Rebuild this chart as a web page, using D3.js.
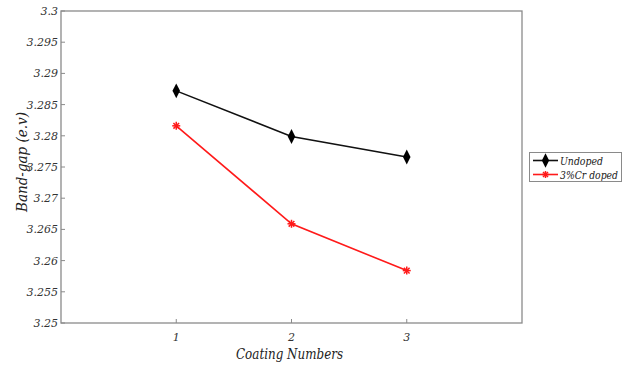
<!DOCTYPE html>
<html>
<head>
<meta charset="utf-8">
<script src="https://cdn.jsdelivr.net/npm/d3@7"></script>
<style>
  body { margin: 0; background: #fff; }
</style>
</head>
<body>
<div id="chart"></div>
<script>
// data
var coatings = [1, 2, 3]
var undoped = [3.2872, 3.2799, 3.2766]
var crDoped = [3.2816, 3.2659, 3.2584]
var yTicks = [3.25, 3.255, 3.26, 3.265, 3.27, 3.275, 3.28, 3.285, 3.29, 3.295, 3.3]
var xTicks = [1, 2, 3]

var svg = d3.select("#chart")
  .append("svg")
  .attr("width", 634)
  .attr("height", 365)
  .style("font-family", "'DejaVu Serif', serif")
  .style("font-style", "italic")

var x = d3.scaleLinear()
    .domain([0, 4])
    .range([61, 522])
var y = d3.scaleLinear()
    .domain([3.25, 3.3])
    .range([323, 11])

var axisColor = "#8a8a8a"

// box
svg.append("rect")
  .attr("x", x(0)).attr("y", y(3.3))
  .attr("width", x(4) - x(0)).attr("height", y(3.25) - y(3.3))
  .attr("fill", "none").attr("stroke", axisColor).attr("stroke-width", 1.3)

// y ticks (inward)
svg.selectAll(".ytick")
  .data(yTicks)
  .enter()
  .append("line")
  .attr("x1", x(0)).attr("x2", x(0) + 4)
  .attr("y1", function(d){ return y(d) }).attr("y2", function(d){ return y(d) })
  .attr("stroke", axisColor)
svg.selectAll(".ylab")
  .data(yTicks)
  .enter()
  .append("text")
  .attr("x", x(0) - 3)
  .attr("y", function(d){ return y(d) + 4 })
  .attr("text-anchor", "end")
  .attr("font-size", 11)
  .attr("fill", "#333")
  .text(function(d){ return +d.toFixed(3) })

// x ticks (inward)
svg.selectAll(".xtick")
  .data(xTicks)
  .enter()
  .append("line")
  .attr("x1", function(d){ return x(d) }).attr("x2", function(d){ return x(d) })
  .attr("y1", y(3.25)).attr("y2", y(3.25) - 4)
  .attr("stroke", axisColor)
svg.selectAll(".xlab")
  .data(xTicks)
  .enter()
  .append("text")
  .attr("x", function(d){ return x(d) })
  .attr("y", y(3.25) + 18)
  .attr("text-anchor", "middle")
  .attr("font-size", 11)
  .attr("fill", "#333")
  .text(function(d){ return d })

// axis titles
svg.append("text")
  .attr("x", 289.5).attr("y", 359)
  .attr("text-anchor", "middle")
  .attr("font-size", 14)
  .attr("textLength", 107).attr("lengthAdjust", "spacingAndGlyphs")
  .attr("fill", "#222")
  .text("Coating Numbers")
svg.append("text")
  .attr("transform", "translate(27,162) rotate(-90)")
  .attr("text-anchor", "middle")
  .attr("font-size", 14)
  .attr("textLength", 100).attr("lengthAdjust", "spacingAndGlyphs")
  .attr("fill", "#222")
  .text("Band-gap (e.v)")

var line = d3.line()
  .x(function(d){ return x(d[0]) })
  .y(function(d){ return y(d[1]) })

var diamond = d3.symbol().type(d3.symbolDiamond).size(45)

function asterisk(g, cx, cy, r, color){
  [0, 45, 90, 135].forEach(function(a){
    var rad = a * Math.PI / 180
    g.append("line")
      .attr("x1", cx - r * Math.cos(rad)).attr("y1", cy - r * Math.sin(rad))
      .attr("x2", cx + r * Math.cos(rad)).attr("y2", cy + r * Math.sin(rad))
      .attr("stroke", color).attr("stroke-width", 1.5)
  })
}

// black series
svg.append("path")
  .attr("d", line(d3.zip(coatings, undoped)))
  .attr("fill", "none").attr("stroke", "#111").attr("stroke-width", 1.6)
svg.selectAll(".dia")
  .data(d3.zip(coatings, undoped))
  .enter()
  .append("path")
  .attr("d", diamond)
  .attr("transform", function(d){ return "translate(" + x(d[0]) + "," + y(d[1]) + ") scale(1.05,1.2)" })
  .attr("fill", "#000")

// red series
svg.append("path")
  .attr("d", line(d3.zip(coatings, crDoped)))
  .attr("fill", "none").attr("stroke", "#ff1a1a").attr("stroke-width", 1.6)
var stars = svg.append("g")
d3.zip(coatings, crDoped).forEach(function(d){
  asterisk(stars, x(d[0]), y(d[1]), 4, "#ff1a1a")
})

// legend
var lg = svg.append("g")
lg.append("rect")
  .attr("x", 529.5).attr("y", 152.5).attr("width", 92).attr("height", 29)
  .attr("fill", "#fff").attr("stroke", axisColor)
lg.append("line").attr("x1", 533).attr("x2", 558).attr("y1", 160.5).attr("y2", 160.5)
  .attr("stroke", "#111").attr("stroke-width", 1.6)
lg.append("path").attr("d", diamond)
  .attr("transform", "translate(545.5,160.5) scale(1,1.15)").attr("fill", "#000")
lg.append("text").attr("x", 560).attr("y", 164.5).attr("font-size", 11)
  .attr("textLength", 43).attr("lengthAdjust", "spacingAndGlyphs")
  .attr("fill", "#222").text("Undoped")
lg.append("line").attr("x1", 533).attr("x2", 558).attr("y1", 174.5).attr("y2", 174.5)
  .attr("stroke", "#ff1a1a").attr("stroke-width", 1.6)
asterisk(lg, 545.5, 174.5, 3.5, "#ff1a1a")
lg.append("text").attr("x", 560).attr("y", 178.5).attr("font-size", 11)
  .attr("textLength", 58).attr("lengthAdjust", "spacingAndGlyphs")
  .attr("fill", "#222").text("3%Cr doped")
</script>
</body>
</html>
